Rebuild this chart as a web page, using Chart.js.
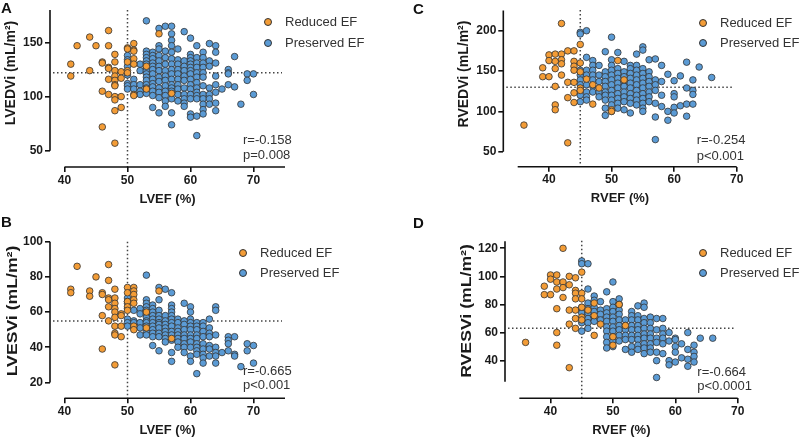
<!DOCTYPE html>
<html>
<head>
<meta charset="utf-8">
<script src="https://cdn.jsdelivr.net/npm/chart.js@4"></script>
<style>
  body { margin: 0; width: 800px; height: 439px; background: #fff; position: relative; overflow: hidden;
         font-family: "Liberation Sans", Arial, sans-serif; }
  .panel { position: absolute; }
  .letter { position: absolute; font-weight: bold; font-size: 15px; line-height: 15px; color: #111; }
  .legtxt { position: absolute; font-size: 13px; line-height: 16px; color: #333; white-space: nowrap; }
  .dot { position: absolute; width: 6px; height: 6px; border-radius: 50%; border: 1px solid #333; }
  .note { position: absolute; font-size: 13px; line-height: 14.5px; color: #333; white-space: nowrap; }
  .ytitle { position: absolute; font-weight: bold; line-height: 1; color: #1a1a1a; white-space: nowrap; }
</style>
</head>
<body>
<script>
// columns: [EF, [volumes at that EF]]
const lvedviReduced = [
  [41, [130, 119]], [42, [147]], [44, [155, 124]], [45, [147]], [46, [132, 131, 105, 72]],
  [47, [161, 147, 127, 126, 116, 102]], [48, [139, 132, 124, 119, 115, 111, 110, 100, 97, 87, 57]],
  [49, [123, 117, 100, 90]], [50, [145, 144, 132, 124, 122]], [51, [149, 143, 142, 135, 130, 102, 101]],
  [53, [128, 107]], [55, [158]], [57, [103]]
];
const lvedviPreserved = [
  [50, [138, 134, 128, 120, 112, 110, 107]],
  [51, [116, 111, 107]],
  [52, [130, 124, 111, 105, 102]],
  [53, [170, 142, 139, 136, 133, 130, 127, 124, 121, 118, 115, 111, 108, 103]],
  [54, [141, 138, 135, 131, 128, 125, 121, 116, 112, 109, 105, 101, 90]],
  [55, [163, 147, 144, 138, 133, 128, 124, 118, 114, 108, 104, 99, 85]],
  [56, [165, 142, 136, 130, 124, 119, 115, 110, 105, 101, 96, 91]],
  [57, [165, 158, 152, 147, 141, 135, 130, 125, 121, 116, 111, 108, 105, 98, 85, 74]],
  [58, [144, 134, 130, 125, 121, 116, 111, 107, 102, 96]],
  [59, [160, 133, 128, 124, 119, 115, 108, 102, 98, 94, 91]],
  [60, [154, 139, 136, 133, 130, 127, 124, 121, 116, 111, 107, 102, 98, 84, 81]],
  [61, [147, 136, 131, 127, 122, 118, 113, 108, 104, 101, 98, 82, 64]],
  [62, [141, 136, 131, 127, 122, 118, 110, 102, 98, 93, 88, 84]],
  [63, [149, 133, 128, 108, 102, 98, 93]],
  [64, [147, 141, 131, 119, 111, 104, 94, 87]],
  [65, [107]], [66, [125, 122, 121, 111]], [67, [137, 109]], [68, [93]], [69, [121, 115]], [70, [121, 102]]
];

const lvesviReduced = [
  [41, [73, 71]], [42, [86]], [44, [72, 69]], [45, [80]], [46, [71, 70, 58, 39]],
  [47, [87, 78, 68, 67, 63, 55]], [48, [73, 68, 65, 62, 60, 57, 52, 48, 47, 30]],
  [49, [59, 58, 52, 46]], [50, [74, 71, 66, 63, 61]], [51, [74, 72, 70, 67, 65, 52, 50]],
  [53, [60, 51]], [55, [72]], [57, [45]]
];
const lvesviPreserved = [
  [50, [68, 66, 65, 62, 56, 54, 52]],
  [51, [61, 55, 54, 51]],
  [52, [62, 59, 54, 51, 47]],
  [53, [81, 67, 65, 63, 61, 59, 57, 55, 54, 52, 49, 47]],
  [54, [64, 62, 60, 58, 56, 54, 52, 50, 48, 46, 41]],
  [55, [74, 67, 61, 58, 56, 54, 53, 51, 48, 46, 38]],
  [56, [73, 58, 55, 53, 51, 49, 47, 45, 43]],
  [57, [71, 64, 62, 60, 58, 56, 54, 52, 49, 47, 44, 37, 32]],
  [58, [56, 54, 51, 49, 47, 45, 43, 40]],
  [59, [65, 55, 53, 50, 47, 45, 42, 40, 37]],
  [60, [63, 60, 56, 54, 52, 50, 47, 45, 43, 40, 35, 32]],
  [61, [54, 52, 50, 47, 45, 42, 40, 38, 36, 25]],
  [62, [54, 52, 49, 46, 42, 39, 36, 34, 31]],
  [63, [56, 51, 48, 46, 41, 39, 35]],
  [64, [63, 61, 47, 40, 37, 35, 31]],
  [65, [37]], [66, [46, 44, 42, 38]], [67, [46, 36, 35]], [68, [29]], [69, [42, 38]], [70, [41, 31]]
];

const rvedviReduced = [
  [36, [83]], [39, [154, 143]], [40, [170, 163, 143]], [41, [171, 162, 153, 131, 108, 102]],
  [42, [209, 171, 164, 159, 145]], [43, [175, 136, 117, 61]], [44, [175, 162, 156, 151, 136, 123, 111]],
  [45, [183, 160, 149, 129, 126]], [46, [140]], [47, [133, 109]], [48, [129]], [50, [102, 100]],
  [51, [163]], [52, [139]]
];
const rvedviPreserved = [
  [45, [198, 196, 151, 145, 139, 133, 126, 120, 112]],
  [46, [200, 167, 151, 145, 133, 124, 118, 114]],
  [47, [163, 157, 151, 145, 139, 131, 124]],
  [48, [157, 145, 137, 124, 118]],
  [49, [174, 149, 143, 137, 131, 124, 120, 114, 104, 95]],
  [50, [192, 164, 157, 151, 145, 139, 133, 126, 120, 114, 108, 100]],
  [51, [173, 153, 147, 141, 135, 129, 122, 116, 110, 104]],
  [52, [162, 149, 143, 137, 131, 124, 118, 112, 102]],
  [53, [157, 153, 147, 141, 135, 129, 122, 116, 110, 98]],
  [54, [171, 157, 151, 145, 139, 133, 126, 120, 114, 108]],
  [55, [180, 176, 153, 147, 141, 135, 129, 122, 116, 110, 104, 100]],
  [56, [164, 149, 143, 137, 131, 124, 118, 112]],
  [57, [165, 139, 133, 126, 110, 93, 65]],
  [58, [157, 137, 120, 106]],
  [59, [146, 100, 89]],
  [60, [138, 122, 118, 105, 98]],
  [61, [144, 107]],
  [62, [161, 129, 109, 94]],
  [63, [139, 126, 121, 109]],
  [64, [155]], [66, [142]]
];

const rvesviReduced = [
  [36, [53]], [39, [93, 87]], [40, [101, 98, 87]], [41, [101, 96, 91, 77, 60, 51]],
  [42, [120, 96, 92, 85]], [43, [100, 94, 76, 66, 35]], [44, [99, 90, 88, 84, 76, 70, 63]],
  [45, [103, 88, 84, 78, 71, 69]], [46, [76]], [47, [81, 72, 58]], [48, [66]], [50, [57, 51]],
  [51, [80]], [52, [65]]
];
const rvesviPreserved = [
  [45, [111, 109, 78, 76, 74, 67, 61]],
  [46, [109, 91, 81, 77, 74, 70, 67, 63]],
  [47, [86, 83, 78, 75, 71, 68]],
  [48, [82, 76, 73, 69]],
  [49, [89, 77, 74, 71, 68, 64, 61, 57, 53, 49]],
  [50, [96, 82, 78, 75, 71, 68, 64, 61, 57, 54, 50]],
  [51, [84, 80, 76, 73, 69, 65, 62, 58, 54]],
  [52, [69, 65, 62, 58, 55, 48]],
  [53, [75, 72, 69, 65, 62, 58, 55, 50, 46]],
  [54, [79, 72, 69, 65, 62, 58, 55, 51, 48]],
  [55, [81, 78, 70, 67, 63, 59, 56, 52, 49, 45]],
  [56, [71, 67, 63, 59, 56, 52, 49, 46]],
  [57, [70, 62, 56, 53, 46, 40, 28]],
  [58, [70, 63, 59, 56, 52, 45]],
  [59, [60, 54, 40, 37]],
  [60, [56, 55, 50, 46, 39]],
  [61, [52, 42]],
  [62, [60, 48, 41, 36]],
  [63, [51, 46, 43, 39]],
  [64, [56]], [66, [56]]
];

const lvefTicks = [40, 50, 60, 70];
const rvefTicks = [40, 50, 60, 70];
const lvedviTicks = [50, 100, 150];
const lvesviTicks = [20, 40, 60, 80, 100];
const rvedviTicks = [50, 100, 150, 200];
const rvesviTicks = [40, 60, 80, 100, 120];

const legendLabels = ["Reduced EF", "Preserved EF"];
const ORANGE = "#F39C36";
const BLUE = "#5B9BD5";
const EDGE = "#333";

const pts = (cols) => cols.flatMap(([x, ys]) => ys.map((y) => ({ x, y })));

// offset axis lines + dotted cut-off lines
const axesPlugin = {
  id: "axes",
  beforeDatasetsDraw(chart, args, o) {
    const { ctx, chartArea: a, scales: { x, y } } = chart;
    ctx.save();
    ctx.strokeStyle = "#444";
    ctx.lineWidth = 1.5;
    ctx.setLineDash([1.5, 2.5]);
    const hy = y.getPixelForValue(o.hRef);
    ctx.beginPath(); ctx.moveTo(a.left + 3, hy); ctx.lineTo(a.right - 3, hy); ctx.stroke();
    const vx = x.getPixelForValue(o.vRef);
    ctx.beginPath(); ctx.moveTo(vx, a.top); ctx.lineTo(vx, a.bottom); ctx.stroke();
    ctx.restore();
  },
  afterDraw(chart, args, o) {
    const { ctx, chartArea: a, scales: { x, y } } = chart;
    ctx.save();
    ctx.strokeStyle = "#111";
    ctx.lineWidth = 1.6;
    ctx.beginPath();
    ctx.moveTo(a.left, y.getPixelForValue(o.yLine[0]));
    ctx.lineTo(a.left, y.getPixelForValue(o.yLine[1]));
    ctx.moveTo(x.getPixelForValue(o.xLine[0]), a.bottom);
    ctx.lineTo(x.getPixelForValue(o.xLine[1]), a.bottom);
    ctx.stroke();
    ctx.restore();
  },
};

const tickFont = { family: "Liberation Sans", size: 12, weight: "bold" };

function addText(cls, x, y, text) {
  const d = document.createElement("div");
  d.className = cls;
  d.style.left = x + "px";
  d.style.top = y + "px";
  d.textContent = text;
  document.body.appendChild(d);
  return d;
}

function makePanel(p) {
  const div = document.createElement("div");
  div.className = "panel";
  div.style.left = p.box[0] + "px";
  div.style.top = p.box[1] + "px";
  const cv = document.createElement("canvas");
  cv.width = p.box[2];
  cv.height = p.box[3];
  div.appendChild(cv);
  document.body.appendChild(div);

  const yW = 50, xH = 40;
  const pad = {
    left: p.area.l - p.box[0] - yW,
    right: p.box[0] + p.box[2] - p.area.r,
    top: p.area.t - p.box[1],
    bottom: p.box[1] + p.box[3] - p.area.b - xH,
  };

  new Chart(cv, {
    type: "scatter",
    data: {
      datasets: [
        { label: legendLabels[0], data: pts(p.reduced), backgroundColor: ORANGE, borderColor: EDGE, borderWidth: 0.8, pointRadius: 3.3 },
        { label: legendLabels[1], data: pts(p.preserved), backgroundColor: BLUE, borderColor: EDGE, borderWidth: 0.8, pointRadius: 3.3 },
      ],
    },
    options: {
      responsive: false,
      animation: false,
      layout: { padding: pad },
      plugins: {
        legend: { display: false },
        tooltip: { enabled: false },
        axes: { hRef: p.hRef, vRef: p.vRef, xLine: p.xLine, yLine: p.yLine },
      },
      scales: {
        x: {
          type: "linear", min: p.x[0], max: p.x[1],
          afterBuildTicks: (s) => { s.ticks = p.xTicks.map((v) => ({ value: v })); },
          afterFit: (s) => { s.height = xH; },
          border: { display: false },
          grid: { drawOnChartArea: false, drawTicks: true, tickLength: 5, color: "#111", lineWidth: 1.6 },
          ticks: { font: tickFont, color: "#1a1a1a", padding: 1, maxRotation: 0 },
          title: { display: true, text: p.xTitle, color: "#1a1a1a", padding: 0,
                   font: { family: "Liberation Sans", size: 13, weight: "bold" } },
        },
        y: {
          type: "linear", min: p.y[0], max: p.y[1],
          afterBuildTicks: (s) => { s.ticks = p.yTicks.map((v) => ({ value: v })); },
          afterFit: (s) => { s.width = yW; },
          border: { display: false },
          grid: { drawOnChartArea: false, drawTicks: true, tickLength: 5, color: "#111", lineWidth: 1.6 },
          ticks: { font: tickFont, color: "#1a1a1a", padding: 2 },
          title: { display: false },
        },
      },
    },
    plugins: [axesPlugin],
  });

  // y title, stretched along its length like the source figure
  const t = addText("ytitle", p.yT.x, p.yT.y, p.yTitle);
  t.style.fontSize = p.yT.size + "px";
  t.style.transform = "translate(-50%, -50%) rotate(-90deg) scaleX(" + p.yT.sx + ")";

  addText("letter", p.letter[0], p.letter[1], p.id);
  // legend
  [ORANGE, BLUE].forEach((c, i) => {
    const d = document.createElement("div");
    d.className = "dot";
    d.style.background = c;
    d.style.left = (p.leg.cx - 4) + "px";
    d.style.top = (p.leg.rows[i] - 4) + "px";
    document.body.appendChild(d);
    addText("legtxt", p.leg.tx, p.leg.rows[i] - 8, legendLabels[i]);
  });
  addText("note", p.note[0], p.note[1] - 7.25, p.stat[0]);
  addText("note", p.note[0], p.note[2] - 7.25, p.stat[1]);
}

makePanel({
  id: "A", box: [0, 0, 400, 218], area: { l: 50, r: 285, t: 10, b: 167 },
  x: [37.7, 75], y: [35, 180], xLine: [40, 75], yLine: [50, 180],
  xTicks: lvefTicks, yTicks: lvedviTicks, hRef: 122, vRef: 50,
  xTitle: "LVEF (%)", yTitle: "LVEDVi (mL/m²)", yT: { x: 9.5, y: 73, size: 14, sx: 1.0 },
  reduced: lvedviReduced, preserved: lvedviPreserved,
  letter: [1, 0], leg: { cx: 268.3, tx: 285, rows: [21.7, 42.7] },
  note: [243, 140.7, 155], stat: ["r=-0.158", "p=0.008"],
});
makePanel({
  id: "B", box: [0, 216, 400, 223], area: { l: 50, r: 285, t: 241.7, b: 398.3 },
  x: [37.7, 75], y: [11, 100], xLine: [40, 75], yLine: [20, 100],
  xTicks: lvefTicks, yTicks: lvesviTicks, hRef: 55, vRef: 50,
  xTitle: "LVEF (%)", yTitle: "LVESVi (mL/m²)", yT: { x: 11.5, y: 311, size: 14, sx: 1.26 },
  reduced: lvesviReduced, preserved: lvesviPreserved,
  letter: [1, 214], leg: { cx: 242.7, tx: 260, rows: [252.7, 272.7] },
  note: [243, 371.7, 385.7], stat: ["r=-0.665", "p<0.001"],
});
makePanel({
  id: "C", box: [400, 0, 400, 218], area: { l: 503.3, r: 736.7, t: 10, b: 166.7 },
  x: [32.7, 70], y: [31.4, 225.7], xLine: [35, 70], yLine: [50, 225],
  xTicks: rvefTicks, yTicks: rvedviTicks, hRef: 130, vRef: 45,
  xTitle: "RVEF (%)", yTitle: "RVEDVi (mL/m²)", yT: { x: 462.5, y: 74, size: 14, sx: 1.0 },
  reduced: rvedviReduced, preserved: rvedviPreserved,
  letter: [413, 1], leg: { cx: 703.3, tx: 720, rows: [22.7, 42.7] },
  note: [696.7, 140.7, 156], stat: ["r=-0.254", "p<0.001"],
});
makePanel({
  id: "D", box: [400, 216, 400, 223], area: { l: 505, r: 737.7, t: 240.7, b: 398.3 },
  x: [32.7, 70], y: [13.2, 125.4], xLine: [35, 70], yLine: [25, 125],
  xTicks: rvefTicks, yTicks: rvesviTicks, hRef: 63, vRef: 45,
  xTitle: "RVEF (%)", yTitle: "RVESVi (mL/m²)", yT: { x: 465.5, y: 311, size: 14, sx: 1.26 },
  reduced: rvesviReduced, preserved: rvesviPreserved,
  letter: [413, 215], leg: { cx: 703.3, tx: 720, rows: [252.7, 273.3] },
  note: [697.3, 372.3, 386], stat: ["r=-0.664", "p<0.0001"],
});
</script>
</body>
</html>
